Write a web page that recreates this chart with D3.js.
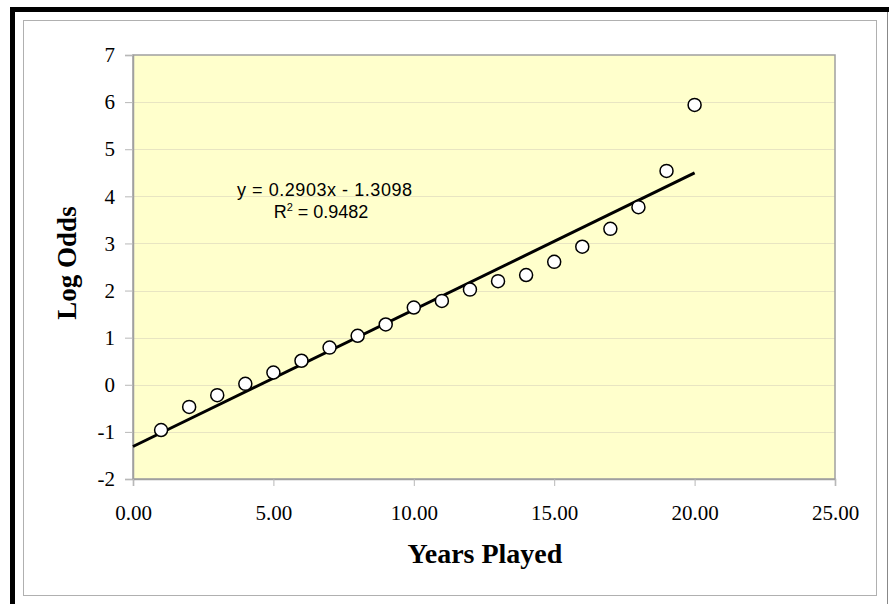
<!DOCTYPE html>
<html>
<head>
<meta charset="utf-8">
<script src="https://cdn.jsdelivr.net/npm/d3@7/dist/d3.min.js"></script>
<style>
html,body{margin:0;padding:0;background:#fff;}
svg{display:block;}
</style>
</head>
<body>
<svg id="chart" width="889" height="604"></svg>
<script>
const years = [1,2,3,4,5,6,7,8,9,10,11,12,13,14,15,16,17,18,19,20];
const logOdds = [-0.96,-0.47,-0.22,0.02,0.26,0.51,0.79,1.04,1.28,1.64,1.78,2.02,2.20,2.33,2.61,2.93,3.31,3.77,4.54,5.94];
const trendSlope = 0.2903;
const trendIntercept = -1.3098;
const trendX = [0, 20];
const xTicks = [0,5,10,15,20,25];
const yTicks = [-2,-1,0,1,2,3,4,5,6,7];
const equationText = "y = 0.2903x - 1.3098";
const r2Value = "0.9482";
const xTitle = "Years Played";
const yTitle = "Log Odds";

const svg = d3.select("#chart");
const plot = {left:133, top:55, right:835, bottom:479};

const x = d3.scaleLinear().domain([0,25]).range([plot.left, plot.right]);
const y = d3.scaleLinear().domain([-2,7]).range([plot.bottom, plot.top]);

// frame
svg.append("rect").attr("x",0).attr("y",0).attr("width",889).attr("height",604).attr("fill","#fff");
svg.append("rect").attr("x",10).attr("y",7).attr("width",879).attr("height",5).attr("fill","#000");
svg.append("rect").attr("x",10).attr("y",7).attr("width",5).attr("height",597).attr("fill","#000");
svg.append("line").attr("x1",887.5).attr("x2",887.5).attr("y1",12).attr("y2",604).attr("stroke","#888").attr("stroke-width",1);
svg.append("rect").attr("x",23.5).attr("y",20.5).attr("width",853).attr("height",575).attr("fill","none").attr("stroke","#b0b0b0").attr("stroke-width",1);

// plot area
svg.append("rect").attr("x",plot.left).attr("y",plot.top).attr("width",plot.right-plot.left).attr("height",plot.bottom-plot.top).attr("fill","#FFFFCC");

// grid
svg.append("g").selectAll("line").data(yTicks.filter(d=>d>-2 && d<7)).join("line")
  .attr("x1",plot.left).attr("x2",plot.right)
  .attr("y1",d=>Math.round(y(d))+0.5).attr("y2",d=>Math.round(y(d))+0.5)
  .attr("stroke","#e8e5c2").attr("stroke-width",1);

// plot border
svg.append("rect").attr("x",plot.left).attr("y",plot.top).attr("width",plot.right-plot.left).attr("height",plot.bottom-plot.top)
  .attr("fill","none").attr("stroke","#a0a0a0").attr("stroke-width",1.5);

// axes
const serif = "'Liberation Serif','Times New Roman',serif";
const yAxis = d3.axisLeft(y).tickValues(yTicks).tickSize(8).tickPadding(10).tickFormat(d3.format("d"));
const gy = svg.append("g").attr("transform",`translate(${plot.left},0)`).call(yAxis);
gy.select(".domain").attr("stroke","#a0a0a0").attr("stroke-width",1.5);
gy.selectAll(".tick line").attr("stroke","#b8b8b8");
gy.selectAll(".tick text").attr("font-family",serif).attr("font-size",21).attr("fill","#000").text(d=>d<0?"-"+Math.abs(d):d);

const xAxis = d3.axisBottom(x).tickValues(xTicks).tickSize(7).tickPadding(19).tickFormat(d3.format(".2f"));
const gx = svg.append("g").attr("transform",`translate(0,${plot.bottom})`).call(xAxis);
gx.select(".domain").attr("stroke","#a0a0a0").attr("stroke-width",1.5);
gx.selectAll(".tick line").attr("stroke","#b8b8b8");
gx.selectAll(".tick text").attr("font-family",serif).attr("font-size",21).attr("fill","#000");

// trend line
const trend = trendX.map(v=>({x:v, y:trendSlope*v+trendIntercept}));
svg.append("path").datum(trend)
  .attr("d", d3.line().x(d=>x(d.x)).y(d=>y(d.y)))
  .attr("fill","none").attr("stroke","#000").attr("stroke-width",3);

// points
svg.append("g").selectAll("circle").data(years.map((v,i)=>({x:v,y:logOdds[i]}))).join("circle")
  .attr("cx",d=>x(d.x)).attr("cy",d=>y(d.y)).attr("r",6.5)
  .attr("fill","#fff").attr("stroke","#000").attr("stroke-width",1.5);

// equation
const sans = "Arial,'Liberation Sans',sans-serif";
svg.append("text").attr("font-family",sans).attr("font-size",18).attr("fill","#000")
  .attr("x",237).attr("y",196).attr("textLength",175).attr("lengthAdjust","spacing").text(equationText);
const r2 = svg.append("text").attr("font-family",sans).attr("font-size",18).attr("fill","#000").attr("text-anchor","middle").attr("x",321).attr("y",218);
r2.append("tspan").text("R");
r2.append("tspan").attr("font-size",11).attr("dy",-7).text("2");
r2.append("tspan").attr("dy",7).text(" = " + r2Value);

// axis titles
svg.append("text").attr("x",485).attr("y",563).attr("text-anchor","middle")
  .attr("font-family",serif).attr("font-weight","bold").attr("font-size",28).text(xTitle);
svg.append("text").attr("transform","translate(76,263) rotate(-90)").attr("text-anchor","middle")
  .attr("font-family",serif).attr("font-weight","bold").attr("font-size",27).text(yTitle);
</script>
</body>
</html>
